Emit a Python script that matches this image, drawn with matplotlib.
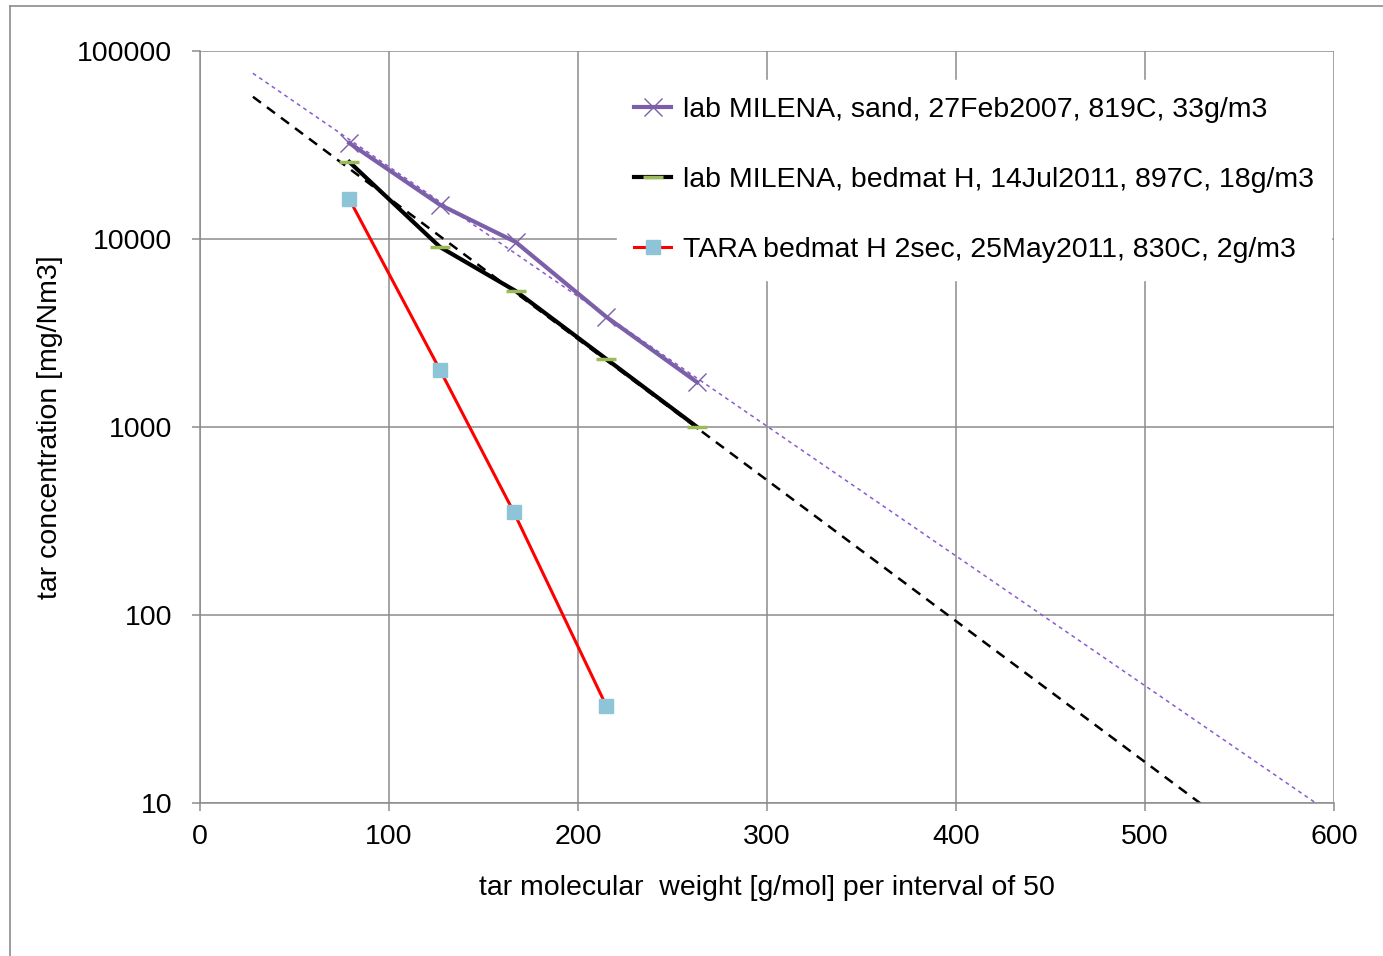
import numpy as np
import matplotlib
matplotlib.use("Agg")
import matplotlib.pyplot as plt
from matplotlib.lines import Line2D
from matplotlib.ticker import FixedLocator, FixedFormatter, NullLocator

plt.rcParams['font.family'] = ['Liberation Sans', 'DejaVu Sans']

# tar molecular weight [g/mol], per interval of 50
mw = [79, 127, 167, 215, 263]
sand_2007 = [32400, 15200, 9640, 3850, 1730]
bedmat_2011 = [25700, 9060, 5290, 2300, 1000]

mw_tara = [79, 127, 166, 215]
tara_2011 = [16300, 2010, 353, 32.8]

labels = [
    "lab MILENA, sand, 27Feb2007, 819C, 33g/m3",
    "lab MILENA, bedmat H, 14Jul2011, 897C, 18g/m3",
    "TARA bedmat H 2sec, 25May2011, 830C, 2g/m3",
]

x_ticks = [0, 100, 200, 300, 400, 500, 600]
y_ticks = [10, 100, 1000, 10000, 100000]
y_tick_labels = ["10", "100", "1000", "10000", "100000"]

grid_col = "#8c8c8c"
purple = "#7b5fa8"
purple_trend = "#8a5ad0"
green = "#9bbb59"
lightblue = "#8ec4d8"
fs = 20.5

fig = plt.figure(figsize=(13.83, 9.56), dpi=100)
ax = fig.add_axes([200 / 1383, 1 - 803 / 956, 1134 / 1383, 752 / 956])

ax.set_yscale("log")
ax.set_xlim(0, 600)
ax.set_ylim(10, 100000)


def exp_trend(x, y, x_from, x_to):
    # excel-style exponential trendline, extended back and forward
    k, b = np.polyfit(x, np.log10(y), 1)
    xt = np.array([x_from, x_to])
    return xt, 10 ** (k * xt + b)


xt, yt = exp_trend(mw, sand_2007, 28, 620)
ax.plot(xt, yt, color=purple_trend, lw=1.1, ls=(0, (2.5, 2.5)), zorder=2)
xt, yt = exp_trend(mw, bedmat_2011, 28, 620)
ax.plot(xt, yt, color="black", lw=1.8, ls=(0, (4, 3)), zorder=2)

l1, = ax.plot(mw, sand_2007, color=purple, lw=3.0, marker="x", ms=13,
              mec=purple, mew=1.0, zorder=4)
l2, = ax.plot(mw, bedmat_2011, color="black", lw=3.0, marker="_", ms=15,
              mec=green, mew=2.5, zorder=4)
l3, = ax.plot(mw_tara, tara_2011, color="red", lw=2.2, marker="s", ms=10,
              mfc=lightblue, mec=lightblue, zorder=4)

ax.xaxis.set_major_locator(FixedLocator(x_ticks))
ax.yaxis.set_major_locator(FixedLocator(y_ticks))
ax.yaxis.set_major_formatter(FixedFormatter(y_tick_labels))
ax.yaxis.set_minor_locator(NullLocator())

ax.grid(True, color=grid_col, lw=1.1, zorder=0)
ax.set_axisbelow(True)
for side in ["top", "right"]:
    ax.spines[side].set_visible(False)
for side in ["left", "bottom"]:
    ax.spines[side].set_color(grid_col)
    ax.spines[side].set_linewidth(1.1)

ax.tick_params(axis="both", which="major", direction="out", length=6,
               width=1.1, color=grid_col, labelsize=fs)
ax.tick_params(axis="y", pad=14)
ax.tick_params(axis="x", pad=9)

ax.set_xlabel("tar molecular  weight [g/mol] per interval of 50", fontsize=fs,
              labelpad=18)
ax.set_ylabel("tar concentration [mg/Nm3]", fontsize=fs, labelpad=10)

leg = ax.legend([l1, l2, l3], labels, loc="upper left",
                bbox_to_anchor=(0.368, 0.962), borderaxespad=0,
                fontsize=fs, frameon=True, framealpha=1, facecolor="white",
                edgecolor="white", fancybox=False, handlelength=1.3,
                handletextpad=0.4, labelspacing=1.55, borderpad=0.6)
leg.set_zorder(5)

# outer chart border (left and top edges visible)
fig.add_artist(Line2D([10 / 1383, 10 / 1383], [0, 1 - 6 / 956],
                      transform=fig.transFigure, color="#8c8c8c", lw=1.2))
fig.add_artist(Line2D([10 / 1383, 1], [1 - 6 / 956, 1 - 6 / 956],
                      transform=fig.transFigure, color="#8c8c8c", lw=1.2))

fig.savefig("out.png", dpi=100)
